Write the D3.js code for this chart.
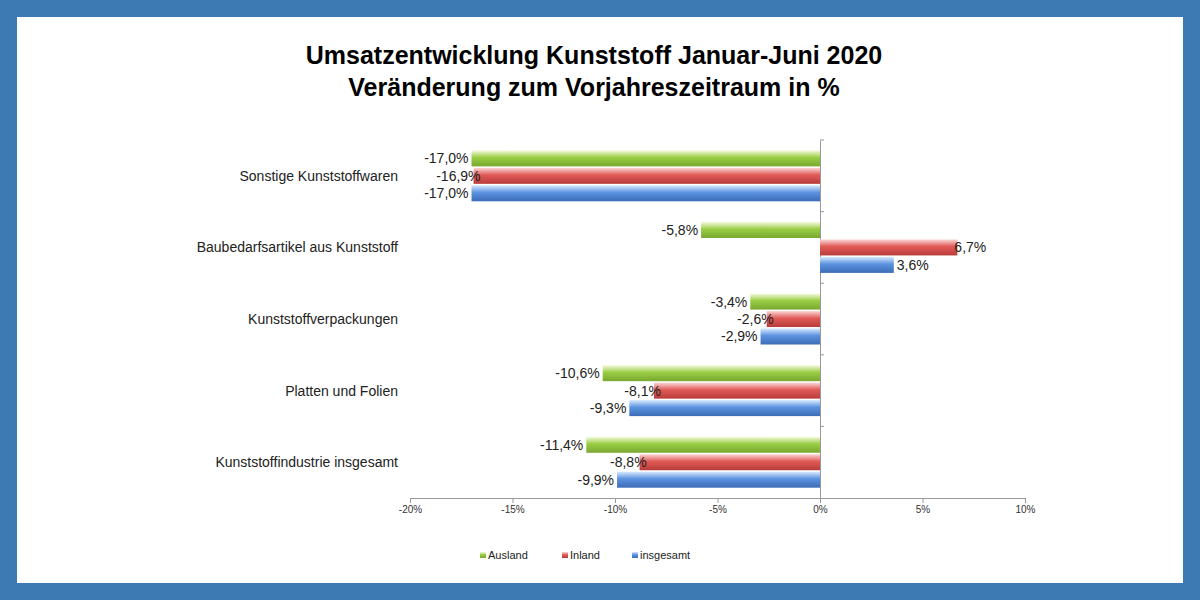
<!DOCTYPE html>
<html><head><meta charset="utf-8">
<script src="https://cdn.jsdelivr.net/npm/d3@7"></script>
<style>body{margin:0;background:#3d7ab3}svg{display:block}</style>
</head><body>
<svg id="c" width="1200" height="600"></svg>
<script>
// Data
var categories = ["Sonstige Kunststoffwaren", "Baubedarfsartikel aus Kunststoff", "Kunststoffverpackungen", "Platten und Folien", "Kunststoffindustrie insgesamt"];
var series = ["Ausland", "Inland", "insgesamt"];
var ausland = [-17.0, -5.8, -3.4, -10.6, -11.4];
var inland = [-16.9, 6.7, -2.6, -8.1, -8.8];
var insgesamt = [-17.0, 3.6, -2.9, -9.3, -9.9];
var ticks = [-20, -15, -10, -5, 0, 5, 10];

var values = [ausland, inland, insgesamt];
var colors = [["#f6fbe0", "#9acd45", "#78a82f"], ["#fbd8d8", "#e05a57", "#b83c3a"], ["#d9ebff", "#5b92e0", "#3c6cb5"]];
var fmt = function(v){ return v.toFixed(1).replace(".", ",") + "%"; };

var svg = d3.select("#c");
svg.append("rect").attr("x", 17).attr("y", 17).attr("width", 1166).attr("height", 566).attr("fill", "#fff");

var defs = svg.append("defs");
colors.forEach(function(c, i){
  var g = defs.append("linearGradient").attr("id", "g" + i).attr("x1", 0).attr("y1", 0).attr("x2", 0).attr("y2", 1);
  g.append("stop").attr("offset", "0%").attr("stop-color", c[0]);
  g.append("stop").attr("offset", "45%").attr("stop-color", c[1]);
  g.append("stop").attr("offset", "100%").attr("stop-color", c[2]);
});

svg.append("text").attr("x", 594).attr("y", 64).attr("text-anchor", "middle")
  .attr("font-family", "Liberation Sans, Arial").attr("font-weight", "bold").attr("font-size", 25).text("Umsatzentwicklung Kunststoff Januar-Juni 2020");
svg.append("text").attr("x", 594).attr("y", 96).attr("text-anchor", "middle")
  .attr("font-family", "Liberation Sans, Arial").attr("font-weight", "bold").attr("font-size", 25).text("Veränderung zum Vorjahreszeitraum in %");

var x = d3.scaleLinear().domain([-20, 10]).range([410, 1025]);
var y = d3.scaleBand().domain(categories).range([140, 498]);
var yi = d3.scaleBand().domain(series).range([0, 51]).paddingInner(0.08);
var bandOff = (y.bandwidth() - 51) / 2;

var xAxis = svg.append("g").attr("transform", "translate(0,498)")
  .call(d3.axisBottom(x).tickValues(ticks).tickSize(5).tickFormat(function(d){ return d + "%"; }));
xAxis.selectAll("text").attr("font-family", "Liberation Sans, Arial").attr("font-size", 10).attr("fill", "#333");
xAxis.selectAll("line,path").attr("stroke", "#999");

// vertical axis at 0
var yAxis = svg.append("g").attr("transform", "translate(" + x(0) + ",0)")
  .call(d3.axisRight(y).tickSize(0).tickFormat(""));
yAxis.select("path").attr("stroke", "#999");
svg.selectAll(".sep").data(categories).enter().append("line")
  .attr("x1", x(0)).attr("x2", x(0) + 4)
  .attr("y1", function(d){ return y(d); }).attr("y2", function(d){ return y(d); })
  .attr("stroke", "#999");

svg.selectAll(".cat").data(categories).enter().append("text")
  .attr("x", 398).attr("y", function(d){ return y(d) + y.bandwidth() / 2 + 5; })
  .attr("text-anchor", "end").attr("font-family", "Liberation Sans, Arial").attr("font-size", 14).attr("fill", "#222")
  .text(function(d){ return d; });

series.forEach(function(s, si){
  var data = categories.map(function(c, ci){ return {c: c, v: values[si][ci]}; });
  var g = svg.append("g");
  g.selectAll("rect").data(data).enter().append("rect")
    .attr("x", function(d){ return x(Math.min(0, d.v)); })
    .attr("width", function(d){ return Math.abs(x(d.v) - x(0)); })
    .attr("y", function(d){ return y(d.c) + bandOff + yi(s); })
    .attr("height", yi.bandwidth())
    .attr("fill", "url(#g" + si + ")");
  g.selectAll("text").data(data).enter().append("text")
    .attr("x", function(d){
      return d.v < 0 ? x(d.v) - 3 + (si === 1 ? 10 : 0) : x(d.v) + (si === 1 ? -3 : 3);
    })
    .attr("y", function(d){ return y(d.c) + bandOff + yi(s) + yi.bandwidth() / 2 + 5; })
    .attr("text-anchor", function(d){ return d.v < 0 ? "end" : "start"; })
    .attr("font-family", "Liberation Sans, Arial").attr("font-size", 14).attr("fill", "#222")
    .text(function(d){ return fmt(d.v); });
});

// legend
var lx = [480, 562, 632];
series.forEach(function(s, i){
  svg.append("rect").attr("x", lx[i]).attr("y", 552).attr("width", 6).attr("height", 6).attr("fill", "url(#g" + i + ")");
  svg.append("text").attr("x", lx[i] + 8).attr("y", 559).attr("font-family", "Liberation Sans, Arial").attr("font-size", 11).attr("fill", "#222").text(s);
});
</script>
</body></html>
